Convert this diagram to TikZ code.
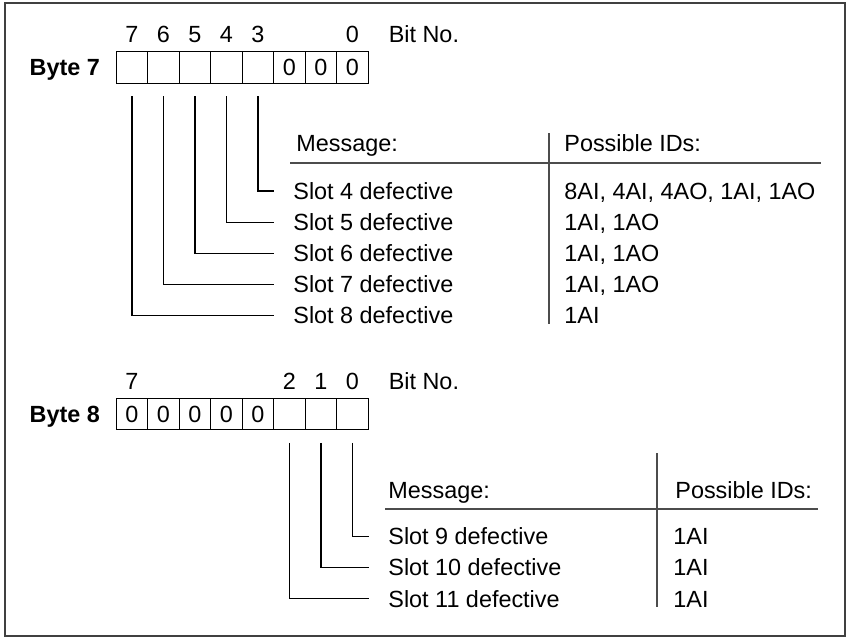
\documentclass[tikz,border=0pt]{standalone}
\usepackage{fontspec}
\setmainfont{Liberation Sans}
\usetikzlibrary{positioning}

\begin{document}
\begin{tikzpicture}[x=0.5pt, y=-0.5pt,
font=\fontsize{11.7}{14}\selectfont,
bitcell/.style={rectangle, draw=black, line width=0.6pt, inner sep=0pt, outer sep=0pt, minimum width=15.75pt, minimum height=15.75pt},
bitnum/.style={inner sep=0pt},
bytelabel/.style={inner sep=0pt, text depth=0pt, font=\fontsize{11.7}{14}\selectfont\bfseries},
slotnode/.style={inner xsep=9.5pt, inner ysep=0pt, anchor=west},
idnode/.style={inner sep=0pt, anchor=base west},
headnode/.style={inner sep=0pt, anchor=base west},
bitline/.style={draw=black, line width=0.6pt},
rule/.style={draw=black!70, line width=0.9pt},
]
\useasboundingbox (0,0) rectangle (848,638);
\draw[black!75, line width=1pt] (5,3) rectangle (845,636);

%Byte 7 cells
\node[bitcell]      (b7c7)         at (132,67.5)         {};
\node[bitcell]      (b7c6)         [right=0pt of b7c7]   {};
\node[bitcell]      (b7c5)         [right=0pt of b7c6]   {};
\node[bitcell]      (b7c4)         [right=0pt of b7c5]   {};
\node[bitcell]      (b7c3)         [right=0pt of b7c4]   {};
\node[bitcell]      (b7c2)         [right=0pt of b7c3]   {0};
\node[bitcell]      (b7c1)         [right=0pt of b7c2]   {0};
\node[bitcell]      (b7c0)         [right=0pt of b7c1]   {0};
\node[bytelabel]    (byte7)        [left=8pt of b7c7]    {Byte 7};

%Byte 7 bit numbers
\node[bitnum]       (b7n7)         [above=4.3pt of b7c7] {7};
\node[bitnum]       (b7n6)         [above=4.3pt of b7c6] {6};
\node[bitnum]       (b7n5)         [above=4.3pt of b7c5] {5};
\node[bitnum]       (b7n4)         [above=4.3pt of b7c4] {4};
\node[bitnum]       (b7n3)         [above=4.3pt of b7c3] {3};
\node[bitnum]       (b7n0)         [above=4.3pt of b7c0] {0};
\node[bitnum]       (b7bit)        [right=14.5pt of b7n0] {Bit No.};

%Byte 7 table
\node[headnode]     (msg7)         at (296,151)          {Message:};
\coordinate         (idcol7)       at (564,0);
\node[headnode]     (ids7)         at (idcol7 |- msg7.base) {Possible IDs:};
\node[slotnode]     (slot4)        at (274,191)          {Slot 4 defective};
\node[slotnode]     (slot5)        [below=15.55pt of slot4.west, anchor=west] {Slot 5 defective};
\node[slotnode]     (slot6)        [below=15.55pt of slot5.west, anchor=west] {Slot 6 defective};
\node[slotnode]     (slot7)        [below=15.55pt of slot6.west, anchor=west] {Slot 7 defective};
\node[slotnode]     (slot8)        [below=15.55pt of slot7.west, anchor=west] {Slot 8 defective};
\node[idnode]       (id4)          at (idcol7 |- slot4.base) {8AI, 4AI, 4AO, 1AI, 1AO};
\node[idnode]       (id5)          at (idcol7 |- slot5.base) {1AI, 1AO};
\node[idnode]       (id6)          at (idcol7 |- slot6.base) {1AI, 1AO};
\node[idnode]       (id7)          at (idcol7 |- slot7.base) {1AI, 1AO};
\node[idnode]       (id8)          at (idcol7 |- slot8.base) {1AI};

%Byte 8 cells
\node[bitcell]      (b8c7)         at (132,414)          {0};
\node[bitcell]      (b8c6)         [right=0pt of b8c7]   {0};
\node[bitcell]      (b8c5)         [right=0pt of b8c6]   {0};
\node[bitcell]      (b8c4)         [right=0pt of b8c5]   {0};
\node[bitcell]      (b8c3)         [right=0pt of b8c4]   {0};
\node[bitcell]      (b8c2)         [right=0pt of b8c3]   {};
\node[bitcell]      (b8c1)         [right=0pt of b8c2]   {};
\node[bitcell]      (b8c0)         [right=0pt of b8c1]   {};
\node[bytelabel]    (byte8)        [left=8pt of b8c7]    {Byte 8};

%Byte 8 bit numbers
\node[bitnum]       (b8n7)         [above=4.3pt of b8c7] {7};
\node[bitnum]       (b8n2)         [above=4.3pt of b8c2] {2};
\node[bitnum]       (b8n1)         [above=4.3pt of b8c1] {1};
\node[bitnum]       (b8n0)         [above=4.3pt of b8c0] {0};
\node[bitnum]       (b8bit)        [right=14.5pt of b8n0] {Bit No.};

%Byte 8 table
\node[headnode]     (msg8)         at (388,498)          {Message:};
\coordinate         (idcol8)       at (673,0);
\node[headnode]     (ids8)         at (675,498)          {Possible IDs:};
\node[slotnode]     (slot9)        at (369,536.5)        {Slot 9 defective};
\node[slotnode]     (slot10)       [below=15.55pt of slot9.west, anchor=west] {Slot 10 defective};
\node[slotnode]     (slot11)       [below=15.55pt of slot10.west, anchor=west] {Slot 11 defective};
\node[idnode]       (id9)          at (idcol8 |- slot9.base) {1AI};
\node[idnode]       (id10)         at (idcol8 |- slot10.base) {1AI};
\node[idnode]       (id11)         at (idcol8 |- slot11.base) {1AI};

%Lines
\draw[bitline] ([yshift=-6.5pt]b7c3.south) |- (slot4.west);
\draw[bitline] ([yshift=-6.5pt]b7c4.south) |- (slot5.west);
\draw[bitline] ([yshift=-6.5pt]b7c5.south) |- (slot6.west);
\draw[bitline] ([yshift=-6.5pt]b7c6.south) |- (slot7.west);
\draw[bitline] ([yshift=-6.5pt]b7c7.south) |- (slot8.west);
\draw[bitline] ([yshift=-6.5pt]b8c0.south) |- (slot9.west);
\draw[bitline] ([yshift=-6.5pt]b8c1.south) |- (slot10.west);
\draw[bitline] ([yshift=-6.5pt]b8c2.south) |- (slot11.west);

%Table rules
\draw[rule] (290,163) -- (821,163);
\draw[rule] (549,133) -- (549,324);
\draw[rule] (385,509) -- (818,509);
\draw[rule] (657,453) -- (657,607);
\end{tikzpicture}
\end{document}
